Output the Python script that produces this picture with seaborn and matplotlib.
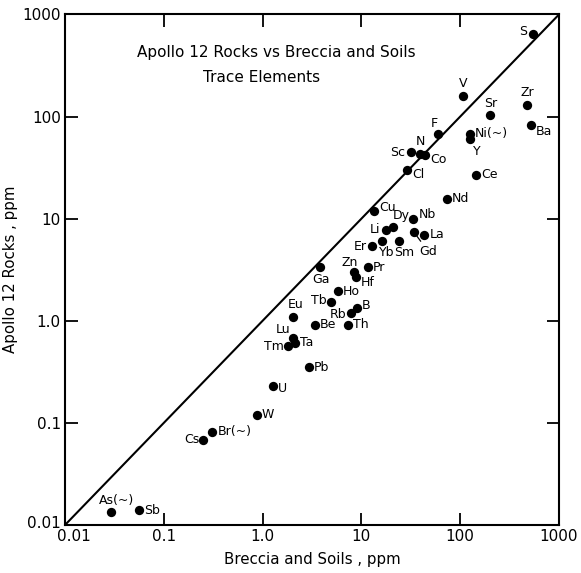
import matplotlib
matplotlib.use("Agg")
import matplotlib.pyplot as plt
import matplotlib.transforms as mtransforms
import seaborn as sns
import pandas as pd

# ---- data ----
elements = ["S", "V", "Zr", "Sr", "Ba", "Ni(~)", "Y", "F", "Sc", "N", "Co", "Cl",
            "Ce", "Nd", "Cu", "Nb", "Dy", "Li", "Gd", "La", "Er", "Yb", "Sm",
            "Ga", "Pr", "Zn", "Hf", "Ho", "Tb", "B", "Rb", "Eu", "Be", "Th",
            "Lu", "Tm", "Ta", "Pb", "U", "W", "Br(~)", "Cs", "As(~)", "Sb"]
breccia_soils = [540, 107, 470, 200, 520, 126, 126, 59, 31.5, 39, 44, 29,
                 145, 73, 13.5, 33, 20.7, 17.6, 34, 43, 12.8, 16.2, 24,
                 3.84, 11.6, 8.5, 8.8, 5.8, 4.9, 9.0, 7.8, 2.05, 3.4, 7.4,
                 2.02, 1.82, 2.13, 2.93, 1.27, 0.87, 0.31, 0.25, 0.029, 0.056]
apollo12_rocks = [650, 158, 130, 103, 83, 68, 60, 67, 44.7, 43.4, 42, 30,
                  27, 15.7, 12.0, 10.0, 8.3, 7.7, 7.4, 7.0, 5.35, 6.0, 6.04,
                  3.33, 3.36, 3.0, 2.68, 1.94, 1.52, 1.33, 1.19, 1.09, 0.91, 0.91,
                  0.68, 0.57, 0.61, 0.35, 0.23, 0.12, 0.082, 0.068, 0.0135, 0.014]
tick_values = [0.01, 0.1, 1, 10, 100, 1000]
tick_labels = ["0.01", "0.1", "1.0", "10", "100", "1000"]

df = pd.DataFrame({"element": elements, "x": breccia_soils, "y": apollo12_rocks})

# label placement (pixel offsets from the point, horizontal alignment, leader line)
layout = {
    "S": (-5, 2, "right", False), "V": (0, 13, "center", False),
    "Zr": (1, 12, "center", False), "Sr": (1, 12, "center", False),
    "Ba": (5, -7, "left", False), "Ni(~)": (5, 0, "left", False),
    "Y": (7, -12, "center", False), "F": (-3, 11, "center", False),
    "Sc": (-5, 0, "right", False), "N": (1, 12, "center", False),
    "Co": (5, -4, "left", False), "Cl": (5, -5, "left", False),
    "Ce": (5, 0, "left", False), "Nd": (5, 0, "left", False),
    "Cu": (5, 3, "left", False), "Nb": (6, 4, "left", False),
    "Dy": (9, 11, "center", True), "Li": (-5, 1, "right", False),
    "Gd": (14, -19, "center", True), "La": (6, 0, "left", False),
    "Er": (-5, 0, "right", False), "Yb": (5, -11, "center", False),
    "Sm": (5, -11, "center", False), "Ga": (1, -12, "center", False),
    "Pr": (5, 0, "left", False), "Zn": (-5, 10, "center", False),
    "Hf": (5, -5, "left", False), "Ho": (5, 0, "left", False),
    "Tb": (-4, 2, "right", False), "B": (5, 3, "left", False),
    "Rb": (-4, -1, "right", False), "Eu": (2, 12, "center", False),
    "Be": (5, 0, "left", False), "Th": (5, 0, "left", False),
    "Lu": (-10, 8, "center", False), "Tm": (-4, -1, "right", False),
    "Ta": (5, 0, "left", False), "Pb": (5, 0, "left", False),
    "U": (5, -3, "left", False), "W": (5, 0, "left", False),
    "Br(~)": (5, 0, "left", False), "Cs": (-4, 0, "right", False),
    "As(~)": (6, 11, "center", False), "Sb": (5, 0, "left", False),
}

sns.set_theme(style="white")
plt.rcParams["font.family"] = ["DejaVu Sans"]

fig = plt.figure(figsize=(5.81, 5.73), dpi=100)
ax = fig.add_axes([0.1119, 0.0838, 0.8502, 0.8909])

sns.scatterplot(data=df, x="x", y="y", ax=ax, color="black", s=45,
                edgecolor="black", linewidth=0, legend=False, zorder=3)

ax.set_xscale("log")
ax.set_yscale("log")
ax.set_xlim(0.01, 1000)
ax.set_ylim(0.01, 1000)

# 1:1 line
ax.plot([0.01, 1000], [0.01, 1000], color="black", lw=1.5, zorder=2)

ax.set_xticks(tick_values)
ax.set_xticklabels(tick_labels)
ax.set_yticks(tick_values)
ax.set_yticklabels(tick_labels)
ax.minorticks_off()
ax.tick_params(axis="both", which="major", direction="in", length=9, width=1.3,
               color="black", labelsize=11, labelcolor="black",
               top=True, right=True, bottom=True, left=True, pad=3)
for sp in ax.spines.values():
    sp.set_color("black")
    sp.set_linewidth(1.5)

# keep the two "0.01" corner labels apart, as in the reference
xl0 = ax.get_xticklabels()[0]
xl0.set_transform(xl0.get_transform() +
                  mtransforms.ScaledTranslation(9 / 100, 0, fig.dpi_scale_trans))
yl0 = ax.get_yticklabels()[0]
yl0.set_transform(yl0.get_transform() +
                  mtransforms.ScaledTranslation(0, 3 / 100, fig.dpi_scale_trans))

for name, xv, yv in zip(elements, breccia_soils, apollo12_rocks):
    dx, dy, ha, leader = layout[name]
    if leader:
        ax.annotate(name, (xv, yv), xytext=(dx, dy), textcoords="offset pixels",
                    ha=ha, va="center", fontsize=9, color="black",
                    arrowprops=dict(arrowstyle="-", color="black", lw=0.9,
                                    shrinkA=0, shrinkB=2))
    else:
        ax.annotate(name, (xv, yv), xytext=(dx, dy), textcoords="offset pixels",
                    ha=ha, va="center", fontsize=9, color="black")

fig.text(276 / 581, 1 - 53 / 573, "Apollo 12 Rocks vs Breccia and Soils",
         ha="center", va="center", fontsize=11, color="black")
fig.text(262 / 581, 1 - 78 / 573, "Trace Elements",
         ha="center", va="center", fontsize=11, color="black")

ax.set_xlabel("Breccia and Soils , ppm", fontsize=10.8, color="black", labelpad=6)
ax.set_ylabel("Apollo 12 Rocks , ppm", fontsize=10.8, color="black", labelpad=3)

fig.savefig("out.png", dpi=100, facecolor="white")
